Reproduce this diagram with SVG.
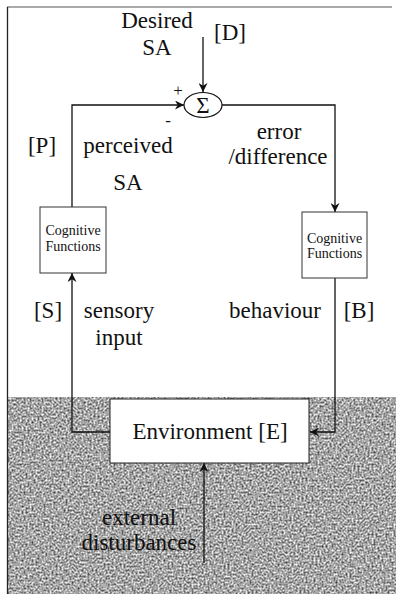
<svg xmlns="http://www.w3.org/2000/svg" width="396" height="594" viewBox="0 0 396 594">
<style>
text{font-family:"Liberation Serif","Times New Roman",serif;fill:#111}
.lbl{font-size:23px}
.sm{font-size:14px}
.ln{stroke:#111;stroke-width:1.3;fill:none}
.box{fill:#fff;stroke:#333;stroke-width:1}
</style>
<defs>
<marker id="ah" viewBox="0 0 10 10" refX="10" refY="5" markerWidth="9" markerHeight="9" markerUnits="userSpaceOnUse" orient="auto">
<path d="M0,0 L10,5 L0,10 L3,5 Z" fill="#111"/>
</marker>
<filter id="noise" x="0" y="0" width="100%" height="100%" color-interpolation-filters="sRGB">
<feTurbulence type="fractalNoise" baseFrequency="0.5" numOctaves="2" seed="5"/>
<feColorMatrix type="matrix" values="1.2 0 0 0 0.05  1.2 0 0 0 0.05  1.2 0 0 0 0.05  0 0 0 0 1"/>
</filter>
</defs>
<rect width="396" height="594" fill="#fff"/>
<g id="background">
<rect x="7" y="397" width="389" height="197" fill="#9a9a9a" filter="url(#noise)"/>
<line x1="7" y1="7" x2="392" y2="7" stroke="#555" stroke-width="1.2"/>
<line x1="7.5" y1="7" x2="7.5" y2="594" stroke="#222" stroke-width="1.3"/>
</g>
<g id="connectors">
<line class="ln" x1="203" y1="37" x2="203" y2="92" marker-end="url(#ah)"/>
<polyline class="ln" points="72,207 72,105 184,105" marker-end="url(#ah)"/>
<polyline class="ln" points="222,105 335,105 335,212" marker-end="url(#ah)"/>
<polyline class="ln" points="335,278 335,432 310,432" marker-end="url(#ah)"/>
<polyline class="ln" points="110,432 72,432 72,273" marker-end="url(#ah)"/>
<line class="ln" x1="204" y1="563" x2="204" y2="463" marker-end="url(#ah)"/>
</g>
<g id="sum">
<ellipse cx="203" cy="105" rx="19" ry="12.5" fill="#fff" stroke="#111" stroke-width="1.2"/>
<text x="203" y="113" text-anchor="middle" font-size="23">Σ</text>
<text x="178" y="96" text-anchor="middle" font-size="17">+</text>
<text x="168" y="126" text-anchor="middle" font-size="17">-</text>
</g>
<g id="desired">
<text class="lbl" x="157" y="28" text-anchor="middle">Desired</text>
<text class="lbl" x="157" y="55" text-anchor="middle">SA</text>
<text class="lbl" x="230" y="40" text-anchor="middle">[D]</text>
</g>
<g id="perceived">
<text class="lbl" x="42" y="153" text-anchor="middle">[P]</text>
<text class="lbl" x="128" y="153" text-anchor="middle">perceived</text>
<text class="lbl" x="128" y="190" text-anchor="middle">SA</text>
</g>
<g id="error">
<text class="lbl" x="279" y="139" text-anchor="middle">error</text>
<text class="lbl" x="278" y="164" text-anchor="middle">/difference</text>
</g>
<g id="cog-left">
<rect class="box" x="40" y="207" width="66" height="66"/>
<text class="sm" x="73" y="235" text-anchor="middle">Cognitive</text>
<text class="sm" x="73" y="251" text-anchor="middle">Functions</text>
</g>
<g id="cog-right">
<rect class="box" x="302" y="212" width="65" height="66"/>
<text class="sm" x="334.5" y="243" text-anchor="middle">Cognitive</text>
<text class="sm" x="334.5" y="258" text-anchor="middle">Functions</text>
</g>
<g id="sensory">
<text class="lbl" x="48" y="318" text-anchor="middle">[S]</text>
<text class="lbl" x="119" y="318" text-anchor="middle">sensory</text>
<text class="lbl" x="119" y="345" text-anchor="middle">input</text>
</g>
<g id="behaviour">
<text class="lbl" x="275" y="318" text-anchor="middle">behaviour</text>
<text class="lbl" x="359" y="318" text-anchor="middle">[B]</text>
</g>
<g id="environment">
<rect x="110" y="399" width="199" height="64" fill="#fff" stroke="#222" stroke-width="1"/>
<text class="lbl" x="210" y="439" text-anchor="middle">Environment [E]</text>
</g>
<g id="disturbances">
<text class="lbl" x="139" y="525" text-anchor="middle">external</text>
<text class="lbl" x="139" y="550" text-anchor="middle">disturbances</text>
</g>
</svg>
